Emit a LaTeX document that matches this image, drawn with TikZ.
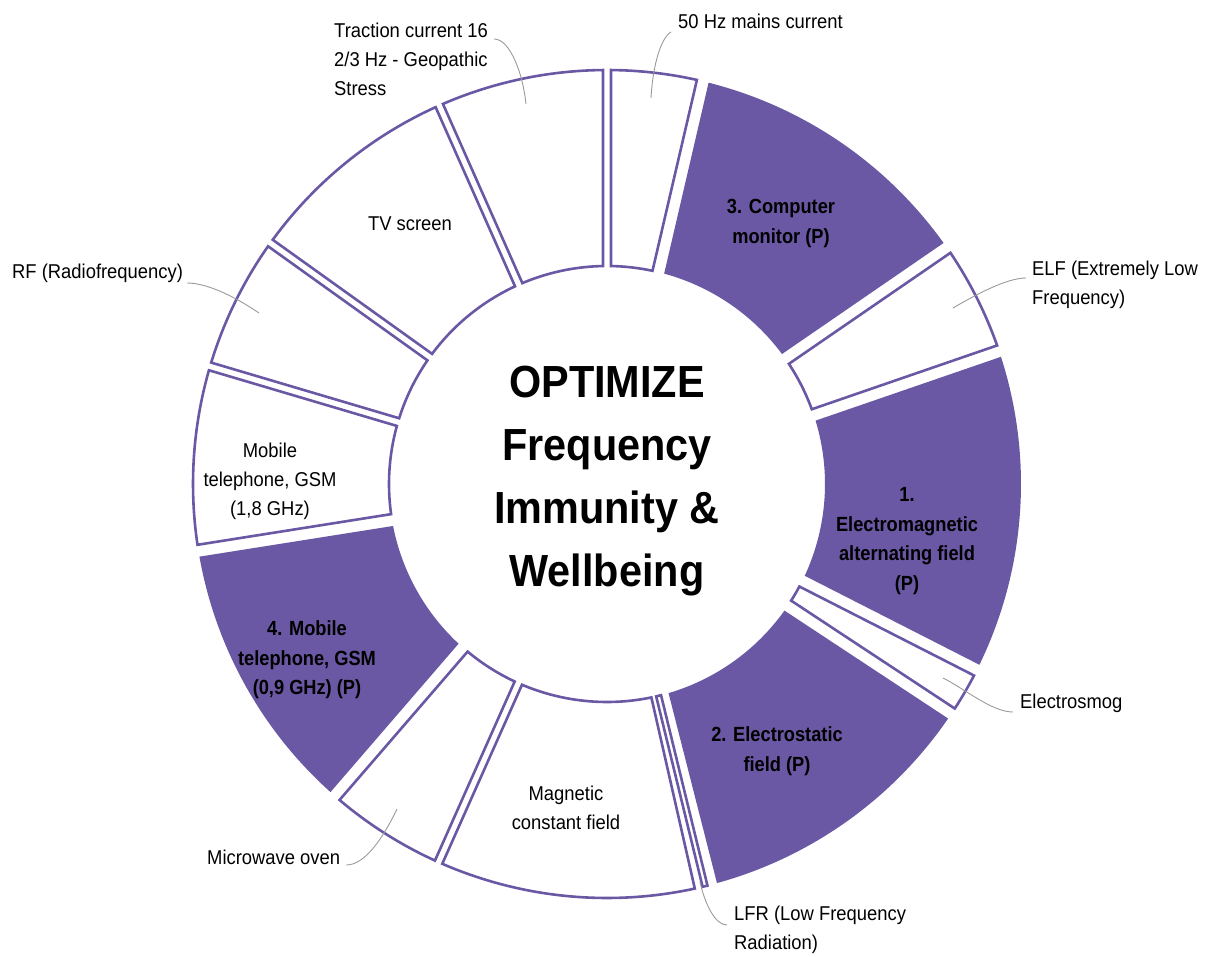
\documentclass[tikz,border=0pt]{standalone}
\usepackage{fontspec}
\setmainfont{Liberation Sans}
\newfontfamily\labelfont{Liberation Sans}[FakeStretch=0.92]
\newfontfamily\boldfont{Liberation Sans}[FakeStretch=0.89]
\usetikzlibrary{calc}
\definecolor{emfpurple}{HTML}{6A58A4}
\definecolor{leadergray}{HTML}{9A9A9A}

\begin{document}
\begin{tikzpicture}[x=1pt, y=1pt,
	slicewhite/.style={draw=emfpurple, line width=2.6pt, fill=white},
	slicefill/.style={draw=none, fill=emfpurple},
	outlabel/.style={font=\labelfont\fontsize{20}{29}\selectfont, align=left, anchor=west, inner sep=0pt},
	inlabel/.style={font=\labelfont\fontsize{20}{29}\selectfont, align=center, inner sep=0pt},
	pluslabel/.style={font=\boldfont\bfseries\fontsize{20.5}{29.5}\selectfont, align=center, inner sep=0pt},
	leader/.style={draw=leadergray, line width=0.9pt}]
	
	% ----------------------------
	% 0) Canvas (origin = ring centre)
	% ----------------------------
	\useasboundingbox (-607,-472) rectangle (598,484);
	
	% ----------------------------
	% 1) Ring slices: start/end angle, half gap, look
	% ----------------------------
	\def\Ro{414} % outer radius
	\def\Ri{218} % inner radius
	\foreach \a/\b/\g/\kind in {
		113.9/90/4/slicewhite, 90/76.9/4/slicewhite, 76.9/34.5/8/slicefill,
		34.5/19/4/slicewhite, 19/-27/8/slicefill, -27/-33.4/4/slicewhite,
		-33.4/-75.7/8/slicefill, -76.3/-76.3/-2.5/slicewhite,
		-77.2/-114/4/slicewhite, -114/-130.8/4/slicewhite,
		-130.8/-171/8/slicefill, 189/163.5/4/slicewhite,
		163.5/144.4/4/slicewhite, 144.4/113.9/4/slicewhite}{
		\pgfmathsetmacro\ao{\a-asin(\g/\Ro)}
		\pgfmathsetmacro\bo{\b+asin(\g/\Ro)}
		\pgfmathsetmacro\ai{\a-asin(\g/\Ri)}
		\pgfmathsetmacro\bi{\b+asin(\g/\Ri)}
		\draw[\kind] (\ao:\Ro pt) arc[start angle=\ao, end angle=\bo, radius=\Ro pt]
		-- (\bi:\Ri pt) arc[start angle=\bi, end angle=\ai, radius=\Ri pt] -- cycle;
	}
	
	% ----------------------------
	% 2) Labels inside the slices
	% ----------------------------
	\node[inlabel] (lblTV) at (-197,260) {TV screen};
	\node[pluslabel] (lblMonitor) at (174,260.5) {3. Computer\\monitor (P)};
	\node[inlabel] (lblGSMhigh) at (-337,2.5) {Mobile\\telephone, GSM\\(1,8 GHz)};
	\node[pluslabel] (lblAlternating) at (300,-57) {1.\\Electromagnetic\\alternating field\\(P)};
	\node[pluslabel] (lblStatic) at (170,-267) {2. Electrostatic\\field (P)};
	\node[inlabel] (lblMagnetic) at (-41,-323.5) {Magnetic\\constant field};
	\node[pluslabel] (lblGSMlow) at (-300,-176) {4. Mobile\\telephone, GSM\\(0,9 GHz) (P)};
	
	% ----------------------------
	% 3) Centre title
	% ----------------------------
	\node[font=\labelfont\bfseries\fontsize{45}{63}\selectfont, align=center, inner sep=0pt]
	(title) at (0,3) {OPTIMIZE\\Frequency\\Immunity \&\\Wellbeing};
	
	% ----------------------------
	% 4) Outside labels for the thin slices
	% ----------------------------
	\node[outlabel] (lblTraction) at (-273,425) {Traction current 16\\2/3 Hz - Geopathic\\Stress};
	\node[outlabel] (lbl50Hz) at (71,463) {50 Hz mains current};
	\node[outlabel] (lblELF) at (425,199.5) {ELF (Extremely Low\\Frequency)};
	\node[outlabel] (lblRF) at (-595,211) {RF (Radiofrequency)};
	\node[outlabel] (lblSmog) at (413,-219) {Electrosmog};
	\node[outlabel] (lblMicro) at (-400,-373) {Microwave oven};
	\node[outlabel] (lblLFR) at (127,-446) {LFR (Low Frequency\\Radiation)};
	
	% ----------------------------
	% 5) Leader lines
	% ----------------------------
	\coordinate (tipTraction) at (-81,380);
	\coordinate (tip50Hz) at (44,386);
	\coordinate (tipELF) at (346,176);
	\coordinate (tipRF) at (-348,171);
	\coordinate (tipSmog) at (336,-194);
	\coordinate (tipMicro) at (-210,-325);
	\coordinate (tipLFR) at (93,-398);
	
	\draw[leader] ([shift={(6pt,20pt)}]lblTraction.east) .. controls +(16,0) and +(-3,30) .. (tipTraction);
	\draw[leader] ([shift={(-7pt,-11pt)}]lbl50Hz.west) .. controls +(-10,-6) and +(2,34) .. (tip50Hz);
	\draw[leader] ([shift={(-6pt,6.5pt)}]lblELF.west) .. controls +(-19,0) and +(24,14) .. (tipELF);
	\draw[leader] ([shift={(4pt,-10pt)}]lblRF.east) .. controls +(21,0) and +(-22,15) .. (tipRF);
	\draw[leader] ([shift={(-7pt,-9pt)}]lblSmog.west) .. controls +(-21,0) and +(22,-11) .. (tipSmog);
	\draw[leader] ([shift={(6pt,-8pt)}]lblMicro.east) .. controls +(20,0) and +(-12,-25) .. (tipMicro);
	\draw[leader] ([shift={(-7pt,5pt)}]lblLFR.west) .. controls +(-12,0) and +(5,-22) .. (tipLFR);
	
\end{tikzpicture}
\end{document}
